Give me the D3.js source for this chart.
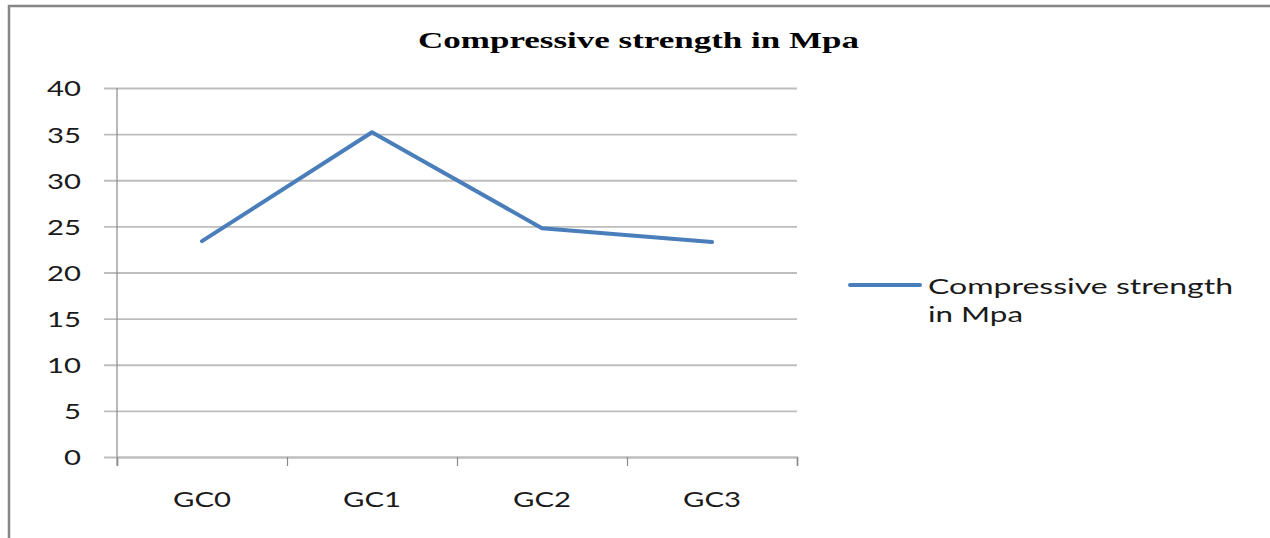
<!DOCTYPE html>
<html>
<head>
<meta charset="utf-8">
<script src="https://cdn.jsdelivr.net/npm/d3@7"></script>
<style>
  html, body { margin: 0; padding: 0; background: #fff; }
  svg { display: block; }
</style>
</head>
<body>
<svg id="chart" width="1270" height="538"></svg>
<script>
// Compressive strength of each mix
const categories = ["GC0", "GC1", "GC2", "GC3"];
const strength = [23.4, 35.2, 24.8, 23.3];
const yTicks = [0, 5, 10, 15, 20, 25, 30, 35, 40];
const titleText = "Compressive strength in Mpa";
const legendLines = ["Compressive strength", "in Mpa"];

const svg = d3.select("#chart");
const W = 1270, H = 538;
const plot = { left: 117, right: 797, top: 88, bottom: 457 };
const sansFont = "Lato, 'Open Sans', sans-serif";

// frame: left and top edges only
svg.append("path")
  .attr("d", `M9,${H} L9,6 L${W},6`)
  .attr("fill", "none")
  .attr("stroke", "#858585")
  .attr("stroke-width", 2.5);

const x = d3.scaleBand().domain(categories).range([plot.left, plot.right]).padding(0);
const xEdge = d3.scaleLinear().domain([0, categories.length]).range([plot.left, plot.right]);
const y = d3.scaleLinear().domain([0, 40]).range([plot.bottom, plot.top]);

// horizontal gridlines with value labels
const gridAxis = svg.append("g")
  .attr("transform", `translate(${plot.right},0)`)
  .call(d3.axisLeft(y).tickValues(yTicks).tickSize(plot.right - 104).tickPadding(23));
gridAxis.select(".domain").remove();
gridAxis.selectAll(".tick line")
  .attr("stroke", "#bdbdbd")
  .attr("stroke-width", 1.8);
gridAxis.selectAll(".tick text")
  .attr("font-family", sansFont)
  .attr("font-size", 22)
  .attr("fill", "#1a1a1a")
  .attr("dy", "0.36em")
  .attr("textLength", d => 17 * String(d).length)
  .attr("lengthAdjust", "spacingAndGlyphs");

// vertical value axis line
svg.append("line")
  .attr("x1", plot.left).attr("x2", plot.left)
  .attr("y1", y(40)).attr("y2", plot.bottom + 8)
  .attr("stroke", "#8a8a8a").attr("stroke-width", 1.2);

// category axis: baseline and boundary ticks
const xTickAxis = svg.append("g")
  .attr("transform", `translate(0,${plot.bottom})`)
  .call(d3.axisBottom(xEdge).tickValues(d3.range(categories.length + 1)).tickSize(9).tickFormat(""));
xTickAxis.select(".domain")
  .attr("stroke", "#bdbdbd").attr("stroke-width", 2);
xTickAxis.selectAll(".tick line")
  .attr("stroke", "#8a8a8a").attr("stroke-width", 1.2);

// category labels
const xLabelAxis = svg.append("g")
  .attr("transform", `translate(0,${plot.bottom})`)
  .call(d3.axisBottom(x).tickSize(0).tickPadding(34));
xLabelAxis.select(".domain").remove();
xLabelAxis.selectAll(".tick text")
  .attr("font-family", sansFont)
  .attr("font-size", 22)
  .attr("fill", "#1a1a1a")
  .attr("textLength", 58)
  .attr("lengthAdjust", "spacingAndGlyphs");

// data line
const line = d3.line()
  .x((d, i) => x(categories[i]) + x.bandwidth() / 2)
  .y(d => y(d));
svg.append("path")
  .datum(strength)
  .attr("d", line)
  .attr("fill", "none")
  .attr("stroke", "#4a7ebb")
  .attr("stroke-width", 4)
  .attr("stroke-linejoin", "round")
  .attr("stroke-linecap", "round");

// title
svg.append("text")
  .attr("x", 638.5).attr("y", 48)
  .attr("text-anchor", "middle")
  .attr("font-family", "'Liberation Serif', 'Times New Roman', serif")
  .attr("font-weight", "bold")
  .attr("font-size", 24)
  .attr("fill", "#000")
  .attr("textLength", 441)
  .attr("lengthAdjust", "spacingAndGlyphs")
  .text(titleText);

// legend
const legend = svg.append("g");
legend.append("line")
  .attr("x1", 850).attr("x2", 920)
  .attr("y1", 285).attr("y2", 285)
  .attr("stroke", "#4a7ebb").attr("stroke-width", 4)
  .attr("stroke-linecap", "round");
const legendWidths = [305, 95];
legend.selectAll("text.leg")
  .data(legendLines)
  .join("text")
  .attr("class", "leg")
  .attr("x", 928)
  .attr("y", (d, i) => 294 + i * 28)
  .attr("font-family", sansFont)
  .attr("font-size", 22)
  .attr("fill", "#1a1a1a")
  .attr("textLength", (d, i) => legendWidths[i])
  .attr("lengthAdjust", "spacingAndGlyphs")
  .text(d => d);
</script>
</body>
</html>
